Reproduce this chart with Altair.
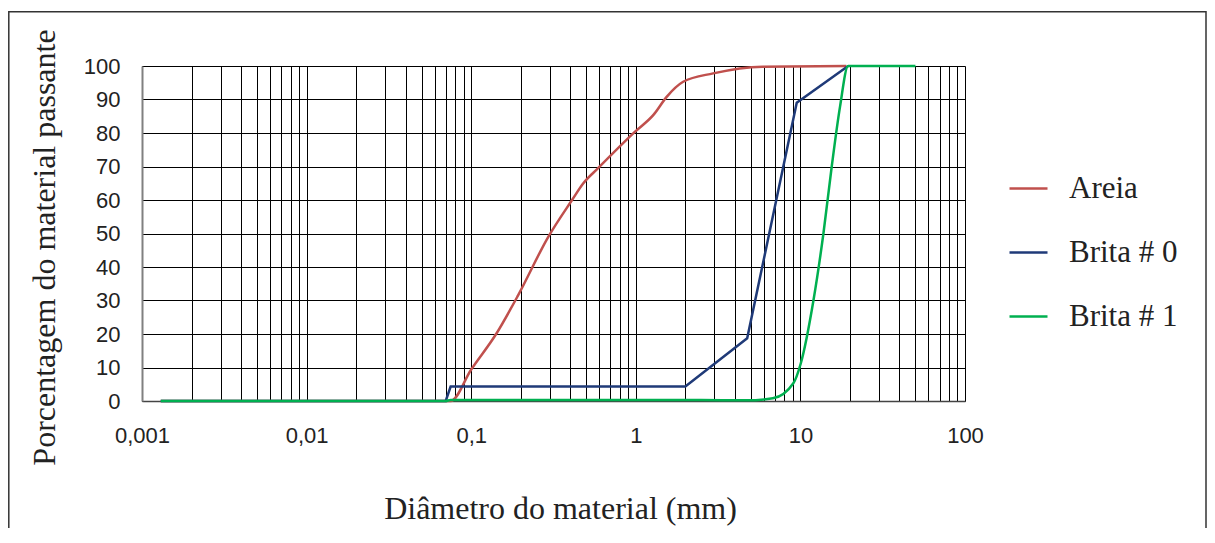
import altair as alt
import pandas as pd

# ---- data ----
series_names = ["Areia", "Brita # 0", "Brita # 1"]
series_colors = ["#C0504D", "#1F3A78", "#00B050"]

areia_x = [0.0013, 0.075, 0.1, 0.143, 0.193, 0.294, 0.41, 0.48, 0.59, 0.99, 1.28, 1.54, 1.94, 2.95, 5.9, 19]
areia_y = [0, 0, 9.4, 20.3, 31.6, 49, 60, 65, 69.5, 80.4, 85.4, 90.8, 95.3, 97.8, 99.8, 100]

brita0_x = [0.0013, 0.07, 0.075, 2.0, 4.75, 9.5, 19.5]
brita0_y = [0, 0, 4.3, 4.3, 18.7, 89, 100]

brita1_x = [0.0013, 0.07, 0.075, 2.36, 4.75, 6.8, 9.06, 10.05, 12.0, 13.8, 15.5, 17.4, 19.5, 50]
brita1_y = [0, 0, 0.3, 0.3, 0.2, 0.8, 5.3, 11.2, 30, 50, 70, 87.8, 100, 100]

decades = [0.001, 0.01, 0.1, 1, 10, 100]
x_tick_labels = ["0,001", "0,01", "0,1", "1", "10", "100"]
y_ticks = [0, 10, 20, 30, 40, 50, 60, 70, 80, 90, 100]

grid_x = [m * d for d in decades[:-1] for m in range(1, 10)] + [100]

def frame(xs, ys, name):
    return pd.DataFrame({"d": xs, "p": ys, "series": name})

df_a = frame(areia_x, areia_y, series_names[0])
df_b0 = frame(brita0_x, brita0_y, series_names[1])
df_b1 = frame(brita1_x, brita1_y, series_names[2])

label_expr = "''"
for v, lab in reversed(list(zip(decades, x_tick_labels))):
    label_expr = f"(abs(datum.value - {v}) < {v}*1e-6) ? '{lab}' : ({label_expr})"

W, H = 823, 335
PAD_L, PAD_T = 134, 58
TOTAL_W, TOTAL_H = 1199, 520

xscale = alt.Scale(type="log", domain=[0.001, 100], nice=False)
yscale = alt.Scale(domain=[0, 100], nice=False)
cscale = alt.Scale(domain=series_names, range=series_colors)

xaxis = alt.Axis(
    values=grid_x, labelExpr=label_expr, grid=True, gridColor="#000000", gridWidth=1,
    ticks=False, domain=True, domainColor="#444444", domainWidth=1.5,
    labelFont="Liberation Sans", labelFontSize=22, labelColor="#222222",
    labelPadding=24, labelOverlap=False, labelFlush=False,
    title="Diâmetro do material (mm)", titleFont="Liberation Serif", titleFontSize=32,
    titleFontWeight="normal", titleColor="#222222", titleX=418, titleY=117,
    titleBaseline="alphabetic", titleAlign="center",
)
yaxis = alt.Axis(
    values=y_ticks, grid=True, gridColor="#000000", gridWidth=1,
    ticks=False, domain=True, domainColor="#808080", domainWidth=2,
    labelFont="Liberation Sans", labelFontSize=22, labelColor="#222222",
    labelPadding=22,
    title="Porcentagem do material passante", titleFont="Liberation Serif", titleFontSize=32,
    titleFontWeight="normal", titleColor="#222222", titleX=-98, titleY=181,
    titleBaseline="middle", titleAlign="center", titleAngle=270,
)
legend = alt.Legend(
    title=None, orient="none", legendX=866, legendY=102, symbolType="stroke",
    symbolSize=1444, symbolStrokeWidth=2.5, labelFont="Liberation Serif",
    labelFontSize=31, labelColor="#222222", labelOffset=20, rowPadding=28, padding=0,
)

def line(df, interp):
    return alt.Chart(df).mark_line(strokeWidth=2.5, interpolate=interp).encode(
        x=alt.X("d:Q", scale=xscale, axis=xaxis),
        y=alt.Y("p:Q", scale=yscale, axis=yaxis),
        color=alt.Color("series:N", scale=cscale, legend=legend),
    )

border = alt.Chart(alt.Data(values=[{"k": 1}])).mark_rect(
    fillOpacity=0, stroke="#333333", strokeWidth=1.5
).encode(
    x=alt.value(-133.2), x2=alt.value(TOTAL_W - PAD_L - 1),
    y=alt.value(-54.3), y2=alt.value(TOTAL_H),
)

chart = alt.layer(
    line(df_a, "monotone"),
    line(df_b0, "linear"),
    line(df_b1, "monotone"),
    border,
).properties(
    width=W, height=H,
    autosize=alt.AutoSizeParams(type="none"),
    padding={"left": PAD_L, "top": PAD_T, "right": TOTAL_W - PAD_L - W, "bottom": TOTAL_H - PAD_T - H},
).configure_view(
    stroke="#808080", strokeWidth=2
).configure(background="white")

chart.save("out.html", embed_options={"renderer": "svg", "actions": False})
